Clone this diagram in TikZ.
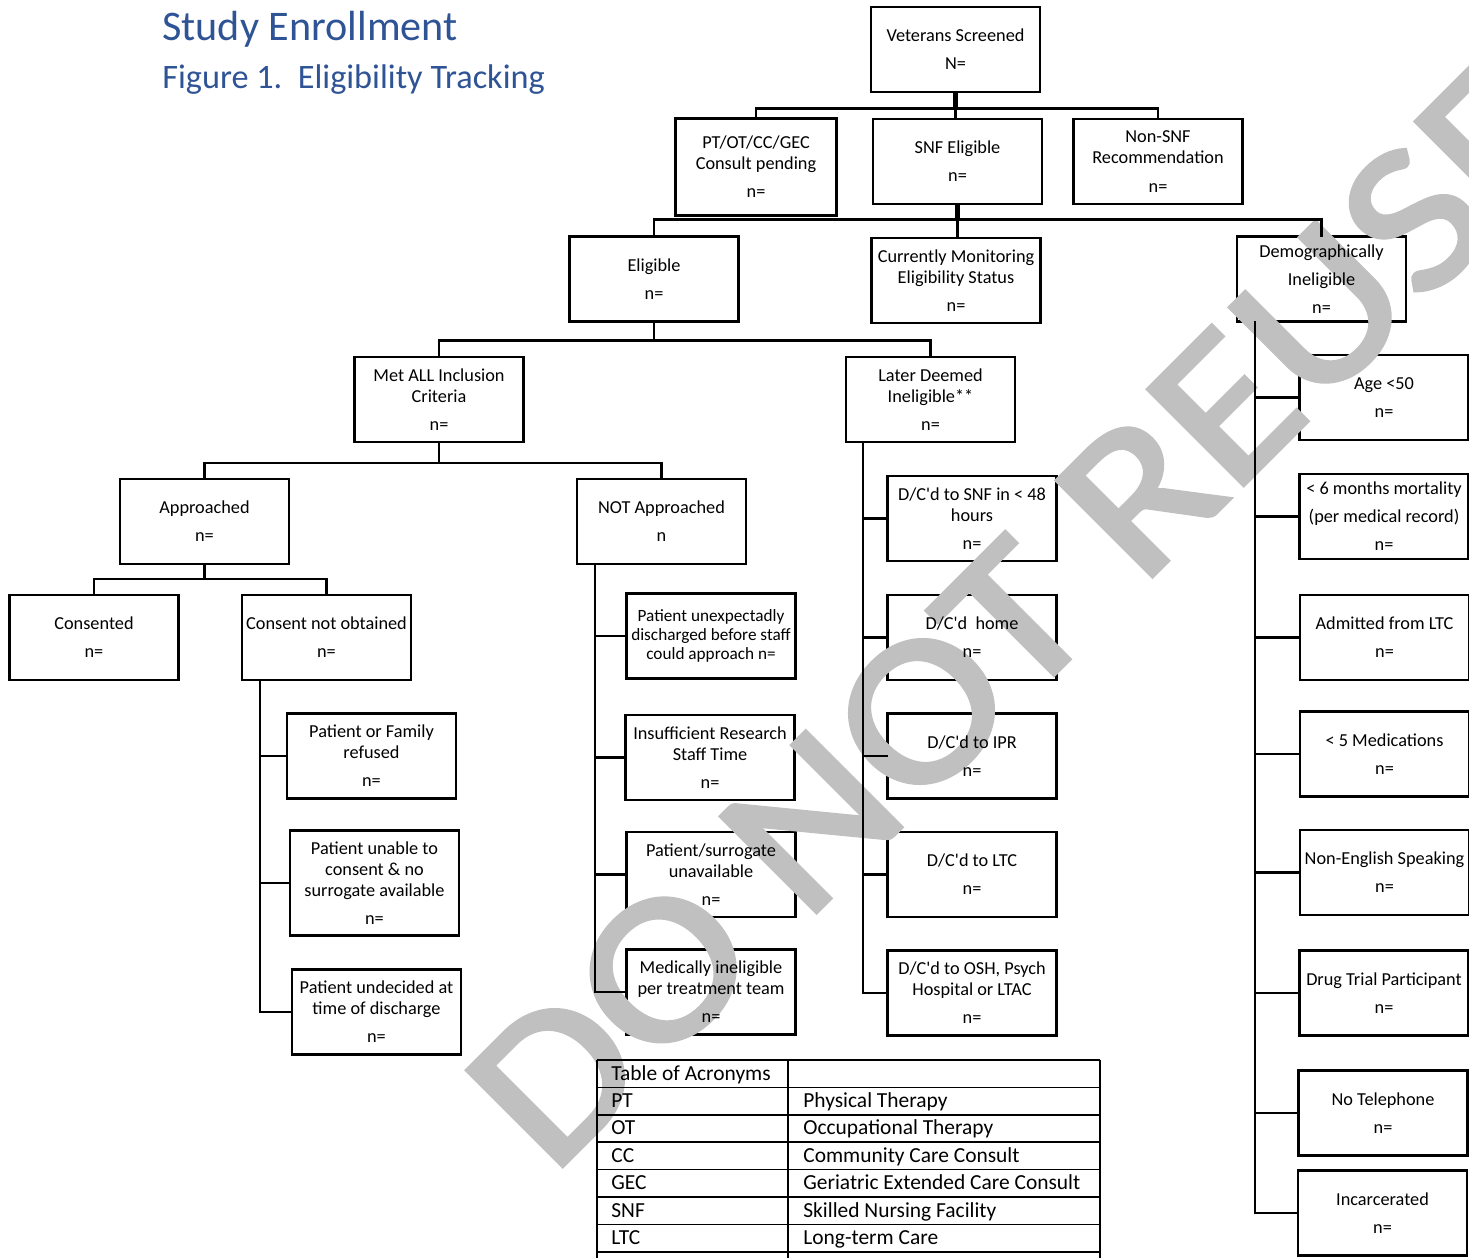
\documentclass[tikz,border=0pt]{standalone}
\usepackage{fontspec}
\setmainfont{Carlito}
\newfontfamily\markfont{Carlito}[FakeBold=2]
\definecolor{headblue}{RGB}{47,84,150}
\definecolor{markgray}{RGB}{192,192,192}
\pgfdeclarelayer{boxes}
\pgfdeclarelayer{mark}
\pgfsetlayers{boxes,mark,main}
\newcommand\dcd{D/C\textquotesingle d}
\begin{document}
\begin{tikzpicture}
	[x=0.02cm,y=-0.02cm,
	every node/.style={inner sep=0pt,align=center,font=\fontsize{10.4}{12}\selectfont},
	box/.style={minimum width=3.36cm,minimum height=1.68cm},
	link/.style={line width=1.4pt},
	stub/.style={line width=2.6pt},
	frame/.style={line width=1.4pt},
	grid/.style={line width=1pt},
	cell/.style={anchor=base west,font=\fontsize{12.2}{14}\selectfont},
	head/.style={anchor=base west,text=headblue}
	]
	\useasboundingbox (0,0) rectangle (1469,1257);
	\node[head,font=\fontsize{24}{28}\selectfont] (title) at (162,41) {Study Enrollment};
	\node[head,font=\fontsize{19.5}{23}\selectfont] (fig) at (162,89) {Figure 1.\ \ Eligibility Tracking};

	% top of the tree
	\node[box] (vet) at (955.5,49.5) {Veterans Screened\\[4pt]N=};
	\node[box,minimum width=3.2cm,minimum height=1.92cm] (pend) at (756,167) {PT/OT/CC/GEC\\Consult pending\\[4pt]n=};
	\node[box] (snf) at (957.5,161.5) {SNF Eligible\\[4pt]n=};
	\node[box] (nsnf) at (1158,161.5) {Non-SNF\\Recommendation\\[4pt]n=};
	\node[box] (elig) at (654,279) {Eligible\\[4pt]n=};
	\node[box] (mon) at (956,280.5) {Currently Monitoring\\Eligibility Status\\[4pt]n=};
	\node[box] (dem) at (1321.5,279) {Demographically\\[4pt]Ineligible\\[4pt]n=};
	\node[box] (met) at (439,399.5) {Met ALL Inclusion\\Criteria\\[4pt]n=};
	\node[box] (later) at (930.5,399.5) {Later Deemed\\Ineligible**\\[4pt]n=};
	\node[box] (appr) at (204.5,521.5) {Approached\\[4pt]n=};
	\node[box] (nappr) at (661.5,521.5) {NOT Approached\\[4pt]n};
	\node[box] (cons) at (94,637.5) {Consented\\[4pt]n=};
	\node[box] (cno) at (326.5,637.5) {Consent not obtained\\[4pt]n=};

	% consent not obtained
	\node[box] (pfr) at (371.5,756) {Patient or Family\\refused\\[4pt]n=};
	\node[box,minimum height=2.08cm] (puc) at (374.5,883) {Patient unable to\\consent \& no\\surrogate available\\[4pt]n=};
	\node[box] (pud) at (376.5,1012) {Patient undecided at\\time of discharge\\[4pt]n=};

	% not approached
	\node[box,font=\fontsize{9.8}{10.8}\selectfont] (pue) at (711,636) {Patient unexpectadly\\discharged before staff\\could approach n=};
	\node[box] (ist) at (710,757.5) {Insufficient Research\\Staff Time\\[4pt]n=};
	\node[box] (psu) at (711,874.5) {Patient/surrogate\\unavailable\\[4pt]n=};
	\node[box] (mip) at (711,992) {Medically ineligible\\per treatment team\\[4pt]n=};

	% later deemed ineligible
	\node[box] (dsnf) at (972,518.5) {\dcd{} to SNF in < 48\\hours\\[4pt]n=};
	\node[box] (dhome) at (972,637.5) {\dcd\ \ home\\[4pt]n=};
	\node[box] (dipr) at (972,756) {\dcd{} to IPR\\[4pt]n=};
	\node[box] (dltc) at (972,874.5) {\dcd{} to LTC\\[4pt]n=};
	\node[box] (dosh) at (972,993) {\dcd{} to OSH, Psych\\Hospital or LTAC\\[4pt]n=};

	% demographically ineligible
	\node[box] (age) at (1384,397.5) {Age <50\\[4pt]n=};
	\node[box] (mort) at (1384,516.5) {< 6 months mortality\\[4pt](per medical record)\\[4pt]n=};
	\node[box] (adm) at (1384.5,637.5) {Admitted from LTC\\[4pt]n=};
	\node[box] (meds) at (1384.5,754) {< 5 Medications\\[4pt]n=};
	\node[box] (eng) at (1384.5,872.5) {Non-English Speaking\\[4pt]n=};
	\node[box] (drug) at (1384,993) {Drug Trial Participant\\[4pt]n=};
	\node[box] (tel) at (1383,1113) {No Telephone\\[4pt]n=};
	\node[box] (inc) at (1382.5,1213) {Incarcerated\\[4pt]n=};

	% connectors
	\coordinate (j1) at ([yshift=-9.6pt]vet.south);
	\draw[stub] (vet.south) -- (j1);
	\draw[link] (pend.north) |- (j1) -| (nsnf.north);
	\draw[link] (j1) -- (j1 |- snf.north);
	\coordinate (j2) at ([yshift=-9pt]snf.south);
	\draw[stub] (snf.south) -- (j2);
	\draw[link] (elig.north) |- (j2) -| (dem.north);
	\draw[link] (j2) -- (j2 |- mon.north);
	\coordinate (j3) at ([yshift=-10.8pt]elig.south);
	\draw[link] (elig.south) -- (j3);
	\draw[link] (met.north) |- (j3) -| (later.north);
	\coordinate (j4) at ([yshift=-11.9pt]met.south);
	\draw[link] (met.south) -- (j4);
	\draw[link] (appr.north) |- (j4) -| (nappr.north);
	\coordinate (j5) at ([yshift=-8.5pt]appr.south);
	\draw[link] (appr.south) -- (j5);
	\draw[link] (cons.north) |- (j5) -| (cno.north);

	\coordinate (cnoA) at ([xshift=10.2pt]cno.south west);
	\coordinate (napprA) at ([xshift=10.2pt]nappr.south west);
	\coordinate (laterA) at ([xshift=9.6pt]later.south west);
	\coordinate (demA) at ([xshift=10.2pt]dem.south west);
	\foreach \n in {pfr,puc,pud} \draw[link] (cnoA) |- (\n.west);
	\foreach \n in {pue,ist,psu,mip} \draw[link] (napprA) |- (\n.west);
	\foreach \n in {dsnf,dhome,dipr,dltc,dosh} \draw[link] (laterA) |- (\n.west);
	\foreach \n in {age,mort,adm,meds,eng,drug,tel,inc} \draw[link] (demA) |- (\n.west);

	% table of acronyms
	\foreach \r in {0,...,7} \draw[grid] (597,1060+27.4*\r) -- (1100,1060+27.4*\r);
	\foreach \x in {597,788,1100} \draw[grid] (\x,1060) -- (\x,1265);
	\node[cell] (acr) at (611,1080) {Table of Acronyms};
	\foreach \a/\b [count=\i] in {PT/Physical Therapy,OT/Occupational Therapy,CC/Community Care Consult,GEC/Geriatric Extended Care Consult,SNF/Skilled Nursing Facility,LTC/Long-term Care}
	{
		\node[cell] (ab\i) at (611,1080+27.4*\i) {\a};
		\node[cell] (mean\i) at (803,1080+27.4*\i) {\b};
	}

	% box outlines sit under the watermark
	\begin{pgfonlayer}{boxes}
	\foreach \n in {vet,pend,snf,nsnf,elig,mon,dem,met,later,appr,nappr,cons,cno,pfr,puc,pud,pue,ist,psu,mip,dsnf,dhome,dipr,dltc,dosh,age,mort,adm,meds,eng,drug,tel,inc}
		\draw[frame] (\n.south west) rectangle (\n.north east);
	\end{pgfonlayer}
	\begin{pgfonlayer}{mark}
	\node[rotate=45,text=markgray,font=\markfont\fontsize{120}{120}\selectfont] (wm) at (1019,614) {\scalebox{1.13}[1]{DO NOT REUSE}};
	\end{pgfonlayer}
\end{tikzpicture}
\end{document}
